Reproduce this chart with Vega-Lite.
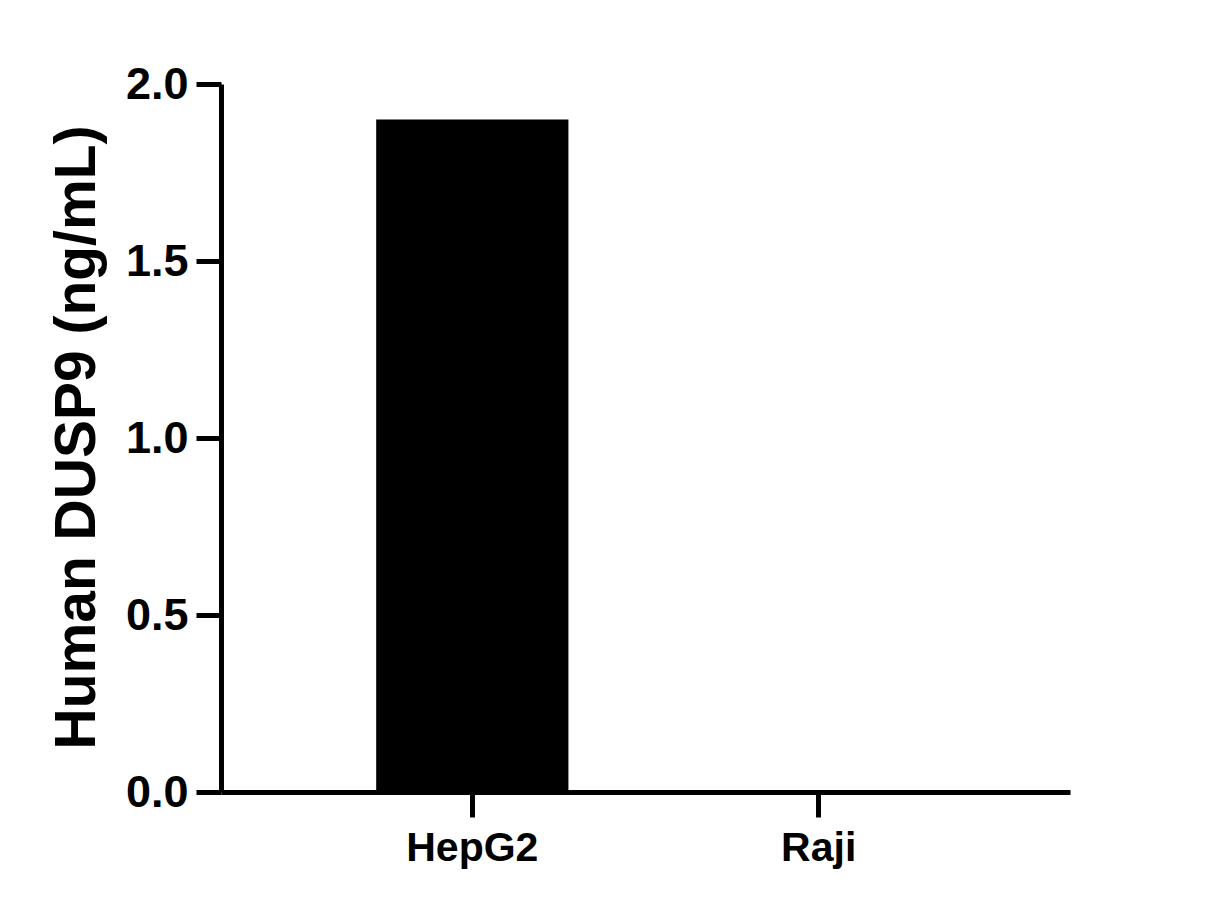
{
  "$schema": "https://vega.github.io/schema/vega-lite/v6.json",
  "width": 849,
  "height": 708,
  "autosize": "none",
  "padding": {"left": 221, "top": 84, "right": 136, "bottom": 116},
  "background": "white",
  "data": {"values": [
    {"cell": "HepG2", "value": 1.9},
    {"cell": "Raji", "value": 0}
  ]},
  "mark": {"type": "bar", "color": "black"},
  "encoding": {
    "x": {
      "field": "cell", "type": "nominal", "sort": null,
      "scale": {"paddingInner": 0.445, "paddingOuter": 0.448},
      "axis": {
        "title": null, "labelAngle": 0,
        "labelFont": "Liberation Sans", "labelFontWeight": "bold", "labelFontSize": 41, "labelColor": "black",
        "labelBaseline": "alphabetic", "labelPadding": 43,
        "domainColor": "black", "domainWidth": 5,
        "tickColor": "black", "tickWidth": 5, "tickSize": 25
      }
    },
    "y": {
      "field": "value", "type": "quantitative",
      "scale": {"domain": [0, 2], "nice": false},
      "axis": {
        "title": "Human DUSP9 (ng/mL)",
        "titleFont": "Liberation Sans", "titleFontWeight": "bold", "titleFontSize": 57, "titleColor": "black",
        "titleAngle": -90, "titleX": -127, "titleY": 353, "titleAlign": "center", "titleBaseline": "alphabetic",
        "values": [0, 0.5, 1, 1.5, 2], "format": ".1f", "grid": false,
        "labelFont": "Liberation Sans", "labelFontWeight": "bold", "labelFontSize": 45, "labelColor": "black",
        "labelPadding": 8, "labelBaseline": "middle",
        "domainColor": "black", "domainWidth": 5,
        "tickColor": "black", "tickWidth": 5, "tickSize": 25
      }
    }
  },
  "config": {"view": {"stroke": null}}
}
